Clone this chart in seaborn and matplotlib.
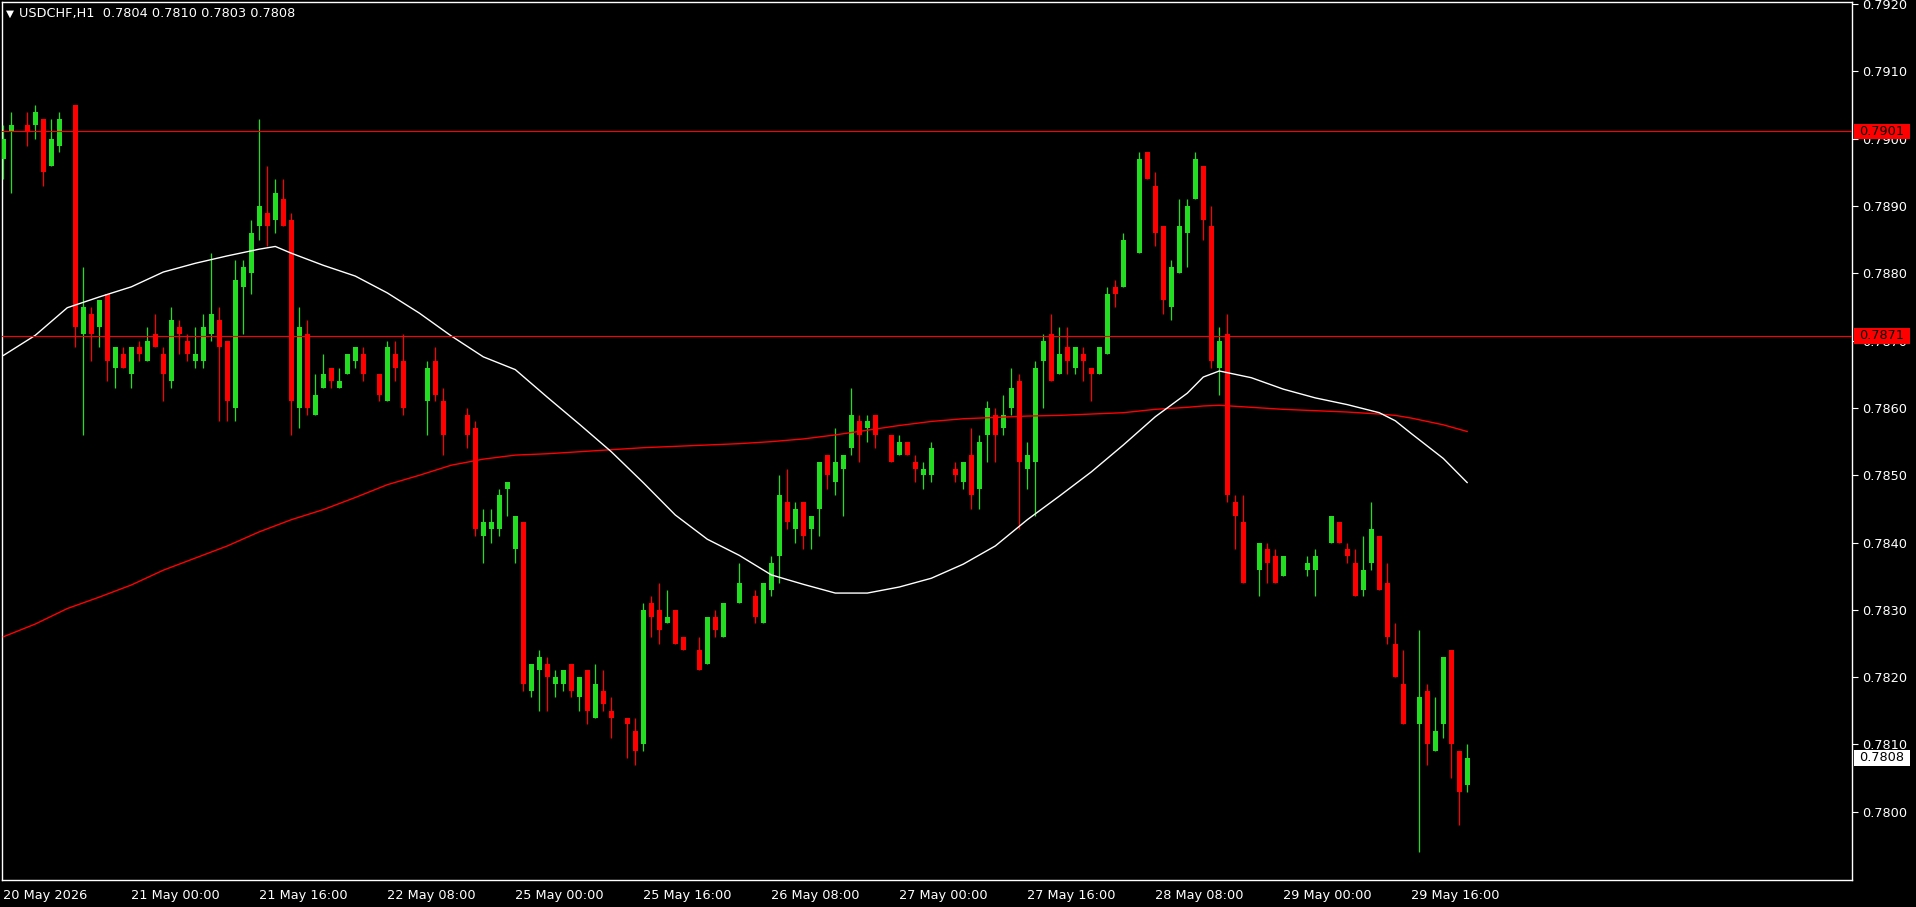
import numpy as np
import pandas as pd
import matplotlib
matplotlib.use('Agg')
import matplotlib.pyplot as plt
from matplotlib.patches import Rectangle
import seaborn as sns

nan = np.nan

# USDCHF H1 bars, 20 May 08:00 .. 29 May 23:00 (nan = flat bar, nothing drawn)
open_ = [
    0.7897, 0.7901, nan, 0.7902, 0.7902, 0.7903, 0.7896, 0.7899,
    nan, 0.7905, 0.7871, 0.7874, 0.7872, 0.7877, 0.7866, 0.7868,
    0.7865, 0.7869, 0.7867, 0.7871, 0.7868, 0.7864, 0.7872, 0.7870,
    0.7867, 0.7867, 0.7871, 0.7873, 0.7870, 0.7860, 0.7878, 0.7880,
    0.7887, 0.7889, 0.7888, 0.7891, 0.7888, 0.7860, 0.7871, 0.7859,
    0.7863, 0.7866, 0.7863, 0.7865, 0.7867, 0.7868, nan, 0.7865,
    0.7861, 0.7868, 0.7867, nan, nan, 0.7861, 0.7867, 0.7861,
    nan, nan, 0.7859, 0.7857, 0.7841, 0.7842, 0.7842, 0.7848,
    0.7839, 0.7843, 0.7818, 0.7821, 0.7822, 0.7819, 0.7819, 0.7822,
    0.7817, 0.7821, 0.7814, 0.7818, 0.7815, nan, 0.7814, 0.7812,
    0.7810, 0.7831, 0.7830, 0.7828, 0.7830, 0.7826, nan, 0.7824,
    0.7822, 0.7829, 0.7826, nan, 0.7831, nan, 0.7832, 0.7828,
    0.7833, 0.7838, 0.7846, 0.7842, 0.7846, 0.7842, 0.7845, 0.7853,
    0.7849, 0.7851, 0.7854, 0.7858, 0.7857, 0.7859, nan, 0.7856,
    0.7853, 0.7855, 0.7852, 0.7850, 0.7850, nan, nan, 0.7851,
    0.7849, 0.7853, 0.7848, 0.7856, 0.7859, 0.7857, 0.7860, 0.7864,
    0.7851, 0.7852, 0.7867, 0.7871, 0.7865, 0.7869, 0.7866, 0.7868,
    0.7866, 0.7865, 0.7868, 0.7878, 0.7878, nan, 0.7883, 0.7898,
    0.7893, 0.7887, 0.7875, 0.7880, 0.7886, 0.7891, 0.7896, 0.7887,
    0.7866, 0.7871, 0.7846, 0.7843, nan, 0.7836, 0.7839, 0.7838,
    0.7835, nan, nan, 0.7836, 0.7836, nan, 0.7840, 0.7843,
    0.7839, 0.7837, 0.7833, 0.7837, 0.7841, 0.7834, 0.7825, 0.7819,
    nan, 0.7813, 0.7818, 0.7809, 0.7813, 0.7824, 0.7809, 0.7804,
]
high = [
    0.7902, 0.7904, nan, 0.7904, 0.7905, 0.7903, 0.7903, 0.7904,
    nan, 0.7905, 0.7881, 0.7875, 0.7876, 0.7877, 0.7869, 0.7869,
    0.7869, 0.7870, 0.7872, 0.7874, 0.7869, 0.7875, 0.7873, 0.7871,
    0.7872, 0.7874, 0.7883, 0.7875, 0.7870, 0.7882, 0.7882, 0.7888,
    0.7903, 0.7896, 0.7894, 0.7894, 0.7889, 0.7875, 0.7873, 0.7865,
    0.7868, 0.7866, 0.7866, 0.7868, 0.7869, 0.7869, nan, 0.7865,
    0.7870, 0.7870, 0.7871, nan, nan, 0.7867, 0.7869, 0.7863,
    nan, nan, 0.7860, 0.7858, 0.7845, 0.7845, 0.7848, 0.7849,
    0.7844, 0.7843, 0.7822, 0.7824, 0.7823, 0.7821, 0.7821, 0.7822,
    0.7820, 0.7821, 0.7822, 0.7821, 0.7817, nan, 0.7814, 0.7814,
    0.7831, 0.7832, 0.7834, 0.7833, 0.7830, 0.7826, nan, 0.7826,
    0.7829, 0.7830, 0.7831, nan, 0.7837, nan, 0.7833, 0.7834,
    0.7838, 0.7850, 0.7851, 0.7846, 0.7846, 0.7844, 0.7852, 0.7853,
    0.7857, 0.7853, 0.7863, 0.7859, 0.7859, 0.7859, nan, 0.7856,
    0.7856, 0.7855, 0.7853, 0.7852, 0.7855, nan, nan, 0.7852,
    0.7852, 0.7857, 0.7856, 0.7861, 0.7860, 0.7862, 0.7866, 0.7865,
    0.7855, 0.7867, 0.7871, 0.7874, 0.7872, 0.7872, 0.7869, 0.7869,
    0.7866, 0.7869, 0.7878, 0.7879, 0.7886, nan, 0.7898, 0.7898,
    0.7895, 0.7887, 0.7882, 0.7891, 0.7891, 0.7898, 0.7896, 0.7890,
    0.7872, 0.7874, 0.7847, 0.7847, nan, 0.7840, 0.7840, 0.7839,
    0.7838, nan, nan, 0.7838, 0.7839, nan, 0.7844, 0.7843,
    0.7840, 0.7839, 0.7841, 0.7846, 0.7841, 0.7837, 0.7828, 0.7824,
    nan, 0.7827, 0.7819, 0.7817, 0.7823, 0.7824, 0.7809, 0.7810,
]
low = [
    0.7894, 0.7892, nan, 0.7899, 0.7900, 0.7893, 0.7896, 0.7898,
    nan, 0.7869, 0.7856, 0.7867, 0.7869, 0.7864, 0.7863, 0.7866,
    0.7863, 0.7867, 0.7867, 0.7869, 0.7861, 0.7863, 0.7868, 0.7867,
    0.7866, 0.7866, 0.7870, 0.7858, 0.7858, 0.7858, 0.7871, 0.7877,
    0.7885, 0.7884, 0.7886, 0.7887, 0.7856, 0.7857, 0.7859, 0.7859,
    0.7863, 0.7863, 0.7863, 0.7865, 0.7866, 0.7864, nan, 0.7861,
    0.7861, 0.7864, 0.7859, nan, nan, 0.7856, 0.7861, 0.7853,
    nan, nan, 0.7854, 0.7841, 0.7837, 0.7840, 0.7841, 0.7844,
    0.7837, 0.7818, 0.7817, 0.7815, 0.7815, 0.7817, 0.7818, 0.7817,
    0.7815, 0.7813, 0.7814, 0.7815, 0.7811, nan, 0.7808, 0.7807,
    0.7809, 0.7826, 0.7825, 0.7828, 0.7825, 0.7824, nan, 0.7821,
    0.7822, 0.7826, 0.7826, nan, 0.7831, nan, 0.7828, 0.7828,
    0.7832, 0.7834, 0.7842, 0.7840, 0.7839, 0.7839, 0.7841, 0.7848,
    0.7847, 0.7844, 0.7853, 0.7852, 0.7855, 0.7854, nan, 0.7852,
    0.7853, 0.7853, 0.7849, 0.7848, 0.7849, nan, nan, 0.7849,
    0.7848, 0.7845, 0.7845, 0.7852, 0.7852, 0.7856, 0.7859, 0.7842,
    0.7848, 0.7844, 0.7860, 0.7864, 0.7865, 0.7865, 0.7865, 0.7864,
    0.7861, 0.7865, 0.7868, 0.7875, 0.7878, nan, 0.7883, 0.7894,
    0.7884, 0.7874, 0.7873, 0.7880, 0.7881, 0.7891, 0.7885, 0.7866,
    0.7862, 0.7846, 0.7839, 0.7834, nan, 0.7832, 0.7834, 0.7834,
    0.7835, nan, nan, 0.7835, 0.7832, nan, 0.7840, 0.7840,
    0.7837, 0.7832, 0.7832, 0.7836, 0.7833, 0.7825, 0.7820, 0.7813,
    nan, 0.7794, 0.7807, 0.7809, 0.7811, 0.7805, 0.7798, 0.7803,
]
close = [
    0.7900, 0.7902, nan, 0.7901, 0.7904, 0.7895, 0.7900, 0.7903,
    nan, 0.7872, 0.7875, 0.7871, 0.7876, 0.7867, 0.7869, 0.7866,
    0.7869, 0.7868, 0.7870, 0.7869, 0.7865, 0.7873, 0.7871, 0.7868,
    0.7868, 0.7872, 0.7874, 0.7869, 0.7861, 0.7879, 0.7881, 0.7886,
    0.7890, 0.7887, 0.7892, 0.7887, 0.7861, 0.7872, 0.7860, 0.7862,
    0.7865, 0.7864, 0.7864, 0.7868, 0.7869, 0.7865, nan, 0.7862,
    0.7869, 0.7866, 0.7860, nan, nan, 0.7866, 0.7862, 0.7856,
    nan, nan, 0.7856, 0.7842, 0.7843, 0.7843, 0.7847, 0.7849,
    0.7844, 0.7819, 0.7822, 0.7823, 0.7820, 0.7820, 0.7821, 0.7818,
    0.7820, 0.7815, 0.7819, 0.7816, 0.7814, nan, 0.7813, 0.7809,
    0.7830, 0.7829, 0.7827, 0.7829, 0.7825, 0.7824, nan, 0.7821,
    0.7829, 0.7827, 0.7831, nan, 0.7834, nan, 0.7829, 0.7834,
    0.7837, 0.7847, 0.7843, 0.7845, 0.7841, 0.7844, 0.7852, 0.7850,
    0.7852, 0.7853, 0.7859, 0.7856, 0.7858, 0.7856, nan, 0.7852,
    0.7855, 0.7853, 0.7851, 0.7851, 0.7854, nan, nan, 0.7850,
    0.7852, 0.7847, 0.7855, 0.7860, 0.7856, 0.7859, 0.7863, 0.7852,
    0.7853, 0.7866, 0.7870, 0.7864, 0.7868, 0.7867, 0.7869, 0.7867,
    0.7865, 0.7869, 0.7877, 0.7877, 0.7885, nan, 0.7897, 0.7894,
    0.7886, 0.7876, 0.7881, 0.7887, 0.7890, 0.7897, 0.7888, 0.7867,
    0.7870, 0.7847, 0.7844, 0.7834, nan, 0.7840, 0.7837, 0.7834,
    0.7838, nan, nan, 0.7837, 0.7838, nan, 0.7844, 0.7840,
    0.7838, 0.7832, 0.7836, 0.7842, 0.7833, 0.7826, 0.7820, 0.7813,
    nan, 0.7817, 0.7810, 0.7812, 0.7823, 0.7810, 0.7803, 0.7808,
]

# moving averages (bar index -> value)
ma_bars = [0, 4, 8, 12, 16, 20, 24, 28, 32, 34, 36, 40, 44, 48, 52, 56, 60, 64,
           68, 72, 76, 80, 84, 88, 92, 96, 100, 104, 108, 112, 116, 120, 124,
           128, 132, 136, 140, 144, 148, 150, 152, 156, 160, 164, 168, 172,
           174, 176, 180, 183]
ma_fast = [0.78678, 0.78708, 0.78749, 0.78765, 0.78780, 0.78802, 0.78815,
           0.78826, 0.78836, 0.78840, 0.78830, 0.78812, 0.78796, 0.78771,
           0.78741, 0.78707, 0.78676, 0.78657, 0.78616, 0.78576, 0.78535,
           0.78489, 0.78441, 0.78405, 0.78381, 0.78352, 0.78338, 0.78325,
           0.78325, 0.78334, 0.78347, 0.78368, 0.78395, 0.78434, 0.78469,
           0.78505, 0.78545, 0.78587, 0.78622, 0.78646, 0.78655, 0.78645,
           0.78628, 0.78615, 0.78605, 0.78593, 0.78581, 0.78562, 0.78525,
           0.78489]
ma_slow = [0.78260, 0.78279, 0.78302, 0.78319, 0.78337, 0.78359, 0.78377,
           0.78395, 0.78416, 0.78425, 0.78434, 0.78449, 0.78467, 0.78486,
           0.78500, 0.78515, 0.78524, 0.78530, 0.78532, 0.78535, 0.78538,
           0.78541, 0.78543, 0.78545, 0.78547, 0.78550, 0.78554, 0.78560,
           0.78567, 0.78574, 0.78580, 0.78584, 0.78586, 0.78588, 0.78589,
           0.78591, 0.78593, 0.78598, 0.78601, 0.78603, 0.78604, 0.78601,
           0.78598, 0.78596, 0.78594, 0.78591, 0.78589, 0.78585, 0.78575,
           0.78565]

level_prices = [0.79011, 0.78707]
price_ticks = [0.7800, 0.7810, 0.7820, 0.7830, 0.7840, 0.7850, 0.7860,
               0.7870, 0.7880, 0.7890, 0.7900, 0.7910, 0.7920]
date_ticks = [0, 16, 32, 48, 64, 80, 96, 112, 128, 144, 160, 176]
date_labels = ['20 May 2026', '21 May 00:00', '21 May 16:00', '22 May 08:00',
               '25 May 00:00', '25 May 16:00', '26 May 08:00', '27 May 00:00',
               '27 May 16:00', '28 May 08:00', '29 May 00:00', '29 May 16:00']

GREEN = '#22dd22'
RED = '#ff0000'
FG = '#ffffff'
FS = 9.3

sns.set_theme(style='dark', rc={
    'axes.facecolor': 'black',
    'figure.facecolor': 'black',
    'axes.edgecolor': FG,
    'axes.linewidth': 1.0,
    'xtick.color': FG,
    'ytick.color': FG,
    'axes.grid': False,
})
plt.rcParams['font.family'] = ['DejaVu Sans']

W, H = 1916, 907
fig = plt.figure(figsize=(W / 100, H / 100), dpi=100)
ax = fig.add_axes([2.3 / W, 27.3 / H, 1850 / W, 877.4 / H])

df = pd.DataFrame({'o': open_, 'h': high, 'l': low, 'c': close})
df['bar'] = np.arange(len(df))
df = df.dropna()
colors = np.where(df['c'] >= df['o'], GREEN, RED)

ax.vlines(df['bar'], df['l'], df['h'], colors=colors, lw=0.9, zorder=3)
ax.bar(df['bar'], (df['c'] - df['o']).abs(), bottom=np.minimum(df['o'], df['c']),
       width=0.62, color=colors, linewidth=0, zorder=4)

ma = pd.DataFrame({'bar': ma_bars, 'fast': ma_fast, 'slow': ma_slow})
sns.lineplot(data=ma, x='bar', y='slow', ax=ax, color=RED, lw=1.0, zorder=5)
sns.lineplot(data=ma, x='bar', y='fast', ax=ax, color=FG, lw=1.0, zorder=5)

for p in level_prices:
    ax.axhline(p, color=RED, lw=0.8, zorder=6)

ax.set_xlim(-0.125, 231.125)
ax.set_ylim(0.778991, 0.792028)
ax.set_xlabel('')
ax.set_ylabel('')

# price scale on the right
ax.yaxis.tick_right()
ax.set_yticks(price_ticks)
ax.set_yticklabels([f'{p:.4f}' for p in price_ticks])
ax.tick_params(axis='y', length=4, width=0.8, pad=3, labelsize=FS, colors=FG)

ax.set_xticks(date_ticks)
ax.set_xticklabels(date_labels, ha='left')
ax.tick_params(axis='x', length=4, width=0.8, pad=3, labelsize=FS, colors=FG)

# boxed price labels (levels in red, last price in white)
ytr = ax.get_yaxis_transform()
px = 1 / 1850.0
box_h = 15.5 / 67300.0
def price_box(p, fc):
    ax.add_patch(Rectangle((1 + 1.5 * px, p - box_h / 2), 56 * px, box_h,
                           transform=ytr, fc=fc, ec='none', clip_on=False, zorder=10))
    ax.text(1 + 6.5 * px, p, f'{p:.4f}', transform=ytr, ha='left', va='center',
            fontsize=FS, color='black', clip_on=False, zorder=11)

for p in level_prices:
    price_box(p, RED)
price_box(close[-1], FG)

for s in ax.spines.values():
    s.set_color(FG)
    s.set_linewidth(1.0)

# symbol header
fig.text(6 / W, 1 - 13.5 / H, '\u25bc', color=FG, fontsize=7.5, va='center', ha='left')
fig.text(19 / W, 1 - 13.5 / H,
         f'USDCHF,H1  {open_[-1]:.4f} {high[-1]:.4f} {low[-1]:.4f} {close[-1]:.4f}',
         color=FG, fontsize=FS, va='center', ha='left')

fig.savefig('out.png', dpi=100, facecolor='black')
